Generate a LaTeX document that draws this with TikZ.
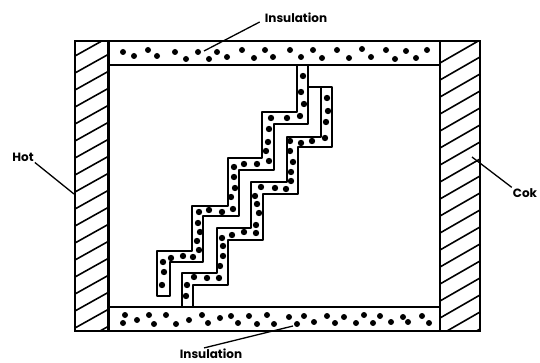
\documentclass[tikz,border=0pt]{standalone}
\usepackage{fontspec}
\setmainfont{Poppins}
\usepackage{tikz}

\begin{document}
\begin{tikzpicture}[x=1pt, y=-1pt,
    wall/.style={line width=2.6pt},
    fin/.style={line width=1.9pt, line join=round},
    hatch/.style={line width=1.6pt},
    leader/.style={line width=1.3pt},
    every node/.style={font=\bfseries\fontsize{12}{14}\selectfont, inner sep=1pt}]
  \useasboundingbox (0,0) rectangle (540,363);
  % walls
  \begin{scope}
    \clip (75,41) rectangle (108.5,331);
    \foreach \y in {56,73,...,379}
      \draw[hatch] (75,\y) -- (109,\y-19);
  \end{scope}
  \begin{scope}
    \clip (440,41) rectangle (480,331);
    \foreach \y in {63,80,...,386}
      \draw[hatch] (440,\y) -- (480,\y-23);
  \end{scope}
  \draw[wall] (75,41) rectangle (480,331);
  \draw[wall] (108.5,41) -- (108.5,331);
  \draw[wall] (440,41) -- (440,331);
  \draw[wall] (108.5,65) -- (440,65);
  \draw[wall] (108.5,307) -- (440,307);
  % fin from the top
  \draw[fin] (296.7,65) -- (296.7,112.3) -- (262.3,112.3) -- (262.3,158.3) -- (227.7,158.3)
    -- (227.7,205.7) -- (192,205.7) -- (192,251) -- (157.3,251) -- (157.3,296) -- (170,296)
    -- (170,262.3) -- (203.3,262.3) -- (203.3,216) -- (239,216) -- (239,170) -- (274,170)
    -- (274,124) -- (308.3,124) -- (308.3,65);
  % fin from the bottom
  \draw[fin] (181.7,307) -- (181.7,273.3) -- (216.7,273.3) -- (216.7,228.3) -- (251,228.3)
    -- (251,182.3) -- (286.7,182.3) -- (286.7,136.7) -- (320.7,136.7) -- (320.7,87.3);
  \draw[fin] (308.3,87.3) -- (331.7,87.3) -- (331.7,147.3) -- (298.3,147.3) -- (298.3,194.3)
    -- (263.3,194.3) -- (263.3,240) -- (228.3,240) -- (228.3,285) -- (193.3,285) -- (193.3,307);
  % dots
  \foreach \x/\y in {123/52,134/56,148/50,157/56,175/52,186/59,198/52,209/59,217/52,227/57,
      242/50,254/58,265/50,273/57,290/50,301/57,313/50,322/58,337/50,349/58,362/49,371/57,
      386/50,395/59,406/51,416/58,427/50,
      125/315,123/323,137/320,149/315,154/324,166/315,176/324,189/320,202/315,208/323,
      220/318,231/316,238/323,249/316,257/324,267/315,274/324,289/317,297/324,304/316,
      314/322,327/316,335/323,344/317,356/323,364/315,373/323,380/316,391/322,403/317,
      408/322,422/316,429/323}
    \fill (\x,\y) circle (3);
  \foreach \x/\y in {303/76,301/92,304/104,300/116,287/118,271/118,269/129,268/142,266/151,
      269/161,257/164,244/164,234/167,234/177,235/188,231/197,233/209,222/212,209/210,
      199/212,198/223,200/232,197/241,199/250,193/257,183/256,171/258,163/262,164/272,162/285,
      327/98,328/111,326/122,325/138,312/141,301/143,290/141,290/151,293/162,291/172,
      291/181,286/189,275/188,261/187,255/196,257/204,259/213,256/225,256/233,244/232,
      232/235,222/238,223/246,223/256,220/266,219/278,207/278,194/277,187/285,186/296}
    \fill (\x,\y) circle (3.2);
  % labels
  \node (lblTop) at (296,18) {Insulation};
  \node (lblBottom) at (211,354) {Insulation};
  \node (lblHot) at (23,157) {Hot};
  \node (lblCold) at (525,193) {Cok};
  \coordinate (endTop) at (204,51);
  \coordinate (endBottom) at (293,326);
  \coordinate (endHot) at (74,194);
  \coordinate (endCold) at (472,157);
  \draw[leader] (lblTop.west) ++(-4,4) -- (endTop);
  \draw[leader] (lblBottom.north) ++(-7,0) -- (endBottom);
  \draw[leader] (lblHot.south east) -- (endHot);
  \draw[leader] (lblCold.north west) -- (endCold);
\end{tikzpicture}
\end{document}
